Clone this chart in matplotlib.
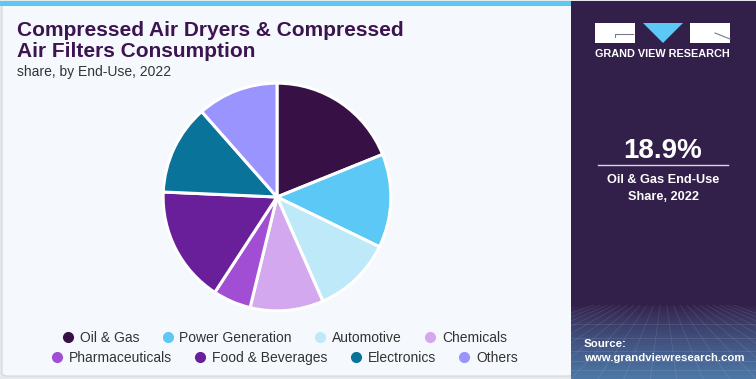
"""Compressed air dryers & filters consumption share by end-use, 2022."""

import numpy as np
from matplotlib import pyplot as plt
from matplotlib.lines import Line2D
from matplotlib.patches import FancyBboxPatch, Polygon, Rectangle

segments = ['Oil & Gas', 'Power Generation', 'Automotive', 'Chemicals',
            'Pharmaceuticals', 'Food & Beverages', 'Electronics', 'Others']
shares = [18.9, 13.3, 11.2, 10.4, 5.4, 16.5, 12.8, 11.5]
colors = ['#371146', '#5BC8F5', '#BDE9F9', '#D4A8EE',
          '#A24ED4', '#6A1F9A', '#0A7399', '#9A94FF']

title = 'Compressed Air Dryers & Compressed\nAir Filters Consumption'
subtitle = 'share, by End-Use, 2022'
highlight = '18.9%'
highlight_label = 'Oil & Gas End-Use\nShare, 2022'

W, H = 756, 379
plt.rcParams['font.family'] = ['Liberation Sans', 'DejaVu Sans']


def fx(px):
    return px / W


def fy(py):
    return 1 - py / H


def draw_background(fig):
    """Left light panel, top stripe, right dark panel."""
    fig.patches.append(Rectangle((0, 0), 1, 1, transform=fig.transFigure,
                                 facecolor='#E6E8EC', zorder=0))
    fig.patches.append(FancyBboxPatch(
        (fx(2), fy(376)), fx(572), 1 - fy(376) - 1 + fy(2),
        boxstyle='round,pad=0,rounding_size=0.008',
        transform=fig.transFigure, facecolor='#F5F8FC',
        edgecolor='#D3D7DD', linewidth=0.8, zorder=0))
    fig.patches.append(Rectangle((0, fy(6)), fx(571), fy(1) - fy(6),
                                 transform=fig.transFigure,
                                 facecolor='#5BC8F5', zorder=1))
    fig.patches.append(Rectangle((fx(571), 0), fx(W - 571), fy(1),
                                 transform=fig.transFigure,
                                 facecolor='#33204A', zorder=1))
    # bluish gradient at the bottom of the dark panel
    gax = fig.add_axes([fx(571), 0, fx(W - 571), fy(305)], zorder=2)
    grad = np.linspace(0, 1, 100)[:, None]
    top = np.array([0x33, 0x20, 0x4A]) / 255
    bottom = np.array([0x4D, 0x78, 0xA8]) / 255
    img = top + (bottom - top) * grad[..., None] ** 0.8
    gax.imshow(img, aspect='auto', extent=(0, 1, 0, 1), origin='upper')
    for xs in np.linspace(-1, 2, 22):
        gax.plot([0.5 + (xs - 0.5) * 0.25, xs], [1, 0], color='white',
                 alpha=0.1, lw=0.6)
    for ys in [0.75, 0.55, 0.38, 0.24, 0.12]:
        gax.axhline(ys, color='white', alpha=0.1, lw=0.6)
    gax.set_xlim(0, 1)
    gax.set_ylim(0, 1)
    gax.axis('off')


def draw_logo(fig):
    """Grand View Research logo built from simple shapes."""
    tr = fig.transFigure
    fig.patches.append(Rectangle((fx(595), fy(43)), fx(40), fy(23) - fy(43),
                                 transform=tr, facecolor='white', zorder=3))
    fig.patches.append(Rectangle((fx(690), fy(43)), fx(40), fy(23) - fy(43),
                                 transform=tr, facecolor='white', zorder=3))
    fig.patches.append(Polygon([(fx(643), fy(23)), (fx(683), fy(23)),
                                (fx(663), fy(43))], transform=tr,
                               facecolor='#5BC8F5', zorder=3))
    fig.lines.append(Line2D([fx(615), fx(615), fx(633)],
                            [fy(37), fy(34), fy(34)], transform=tr,
                            color='#7A7A8A', lw=0.8, zorder=4))
    fig.lines.append(Line2D([fx(715), fx(730)], [fy(33), fy(39)],
                            transform=tr, color='#7A7A8A', lw=0.8, zorder=4))
    fig.text(fx(662), fy(57), 'GRAND VIEW RESEARCH', ha='center',
             va='baseline', color='white', fontsize=7.8, fontweight='bold',
             zorder=5)


def main():
    fig = plt.figure(figsize=(W / 100, H / 100), dpi=100)
    draw_background(fig)
    draw_logo(fig)

    fig.text(fx(17), fy(36), title.split('\n')[0], fontsize=15,
             fontweight='bold', color='#3B1450', va='baseline', zorder=5)
    fig.text(fx(17), fy(57), title.split('\n')[1], fontsize=15,
             fontweight='bold', color='#3B1450', va='baseline', zorder=5)
    fig.text(fx(17), fy(76), subtitle, fontsize=10, color='#333333',
             va='baseline', zorder=5)

    # right panel highlight
    fig.text(fx(663), fy(158), highlight, fontsize=20, fontweight='bold',
             color='white', ha='center', va='baseline', zorder=5)
    fig.lines.append(Line2D([fx(598), fx(728)], [fy(165), fy(165)],
                            transform=fig.transFigure, color='#D8D8E0',
                            lw=1, zorder=5))
    for i, line in enumerate(highlight_label.split('\n')):
        fig.text(fx(663), fy(183 + 17 * i), line, fontsize=9.2,
                 fontweight='bold', color='white', ha='center',
                 va='baseline', zorder=5)
    fig.text(fx(584), fy(347), 'Source:', fontsize=8.2, fontweight='bold',
             color='white', va='baseline', zorder=5)
    fig.text(fx(584), fy(361), 'www.grandviewresearch.com', fontsize=8.2,
             fontweight='bold', color='white', va='baseline', zorder=5)

    # pie
    r = 115
    ax = fig.add_axes([fx(277 - r), fy(197 + r), fx(2 * r), 2 * r / H],
                      zorder=4)
    ax.pie(shares, colors=colors, startangle=90, counterclock=False,
           radius=1, wedgeprops={'edgecolor': 'white', 'linewidth': 2.2})
    ax.set_xlim(-1.01, 1.01)
    ax.set_ylim(-1.01, 1.01)
    ax.set_aspect('equal')
    ax.axis('off')

    # legend in two rows
    handles = [Line2D([], [], marker='o', ls='', markersize=7,
                      markerfacecolor=c, markeredgecolor=c) for c in colors]
    for row, ypx in enumerate([338, 358]):
        sl = slice(4 * row, 4 * row + 4)
        leg = fig.legend(handles[sl], segments[sl], ncol=4, loc='center',
                         bbox_to_anchor=(fx(285), fy(ypx)), frameon=False,
                         fontsize=10, handlelength=0.7, handletextpad=0.5,
                         columnspacing=1.7, borderpad=0, labelcolor='#333333')
        leg.set_zorder(5)

    fig.savefig('out.png', dpi=100)


if __name__ == '__main__':
    main()
